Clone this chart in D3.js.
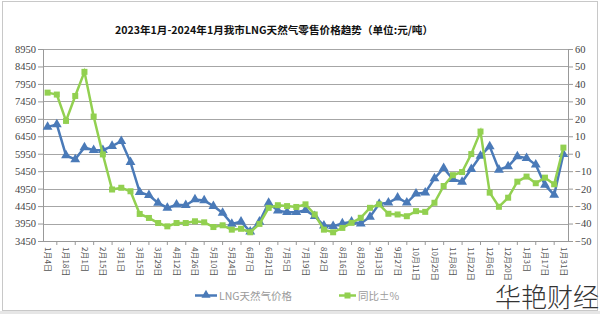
<!DOCTYPE html>
<html><head><meta charset="utf-8">
<script src="https://cdn.jsdelivr.net/npm/d3@7"></script>
<style>
html,body{margin:0;padding:0;background:#fff;}
svg{display:block;}
</style></head>
<body>
<script>
const dates = ["1月4日","1月11日","1月18日","1月25日","2月1日","2月8日","2月15日","2月22日","3月1日","3月8日","3月15日","3月22日","3月29日","4月5日","4月12日","4月19日","4月26日","5月3日","5月10日","5月17日","5月24日","5月31日","6月7日","6月14日","6月21日","6月28日","7月5日","7月12日","7月19日","7月26日","8月2日","8月9日","8月16日","8月23日","8月30日","9月6日","9月13日","9月20日","9月27日","10月4日","10月11日","10月18日","10月25日","11月1日","11月8日","11月15日","11月22日","11月29日","12月6日","12月13日","12月20日","12月27日","1月3日","1月10日","1月17日","1月24日","1月31日"];
const priceLNG = [6720,6790,5900,5790,6130,6050,6050,6170,6310,5710,4850,4760,4540,4400,4490,4475,4640,4610,4450,4255,3940,4005,3720,4000,4540,4320,4275,4275,4330,4160,3890,3875,3950,4000,3950,4140,4515,4545,4690,4545,4805,4835,5240,5535,5220,5140,5510,5890,6160,5490,5585,5875,5825,5635,5055,4770,5940];
const yoyPct = [35,33.9,18.8,33.1,46.9,21.3,-0.4,-20.5,-19.5,-21.5,-34.5,-36.8,-39.7,-41.6,-39.7,-39.7,-38.7,-39.3,-42,-41,-43.5,-43,-45,-40.2,-31,-29.5,-30,-30.5,-29,-34.8,-43.5,-45,-42.5,-39.6,-36.7,-31,-29,-34.4,-34.8,-35.8,-32.9,-33.3,-28.1,-18.5,-12.3,-10.5,-0.2,12.7,-22.3,-30.4,-25.2,-16,-13.1,-16.9,-13.7,-17.5,3.5];
const leftTicks = d3.range(3450, 8951, 500);
const rightTicks = d3.range(-50, 61, 10);
const seriesNames = ["LNG天然气价格","同比±%"];
const title = "2023年1月-2024年1月我市LNG天然气零售价格趋势（单位:元/吨）";

const W = 600, H = 314;
const svg = d3.select("body").append("svg").attr("width", W).attr("height", H);
svg.append("rect").attr("x",0).attr("y",0).attr("width",W).attr("height",H).attr("fill","#fff");
svg.append("rect").attr("x",0).attr("y",311).attr("width",W).attr("height",3).attr("fill","#e6e6e6");
svg.append("rect").attr("x",2.5).attr("y",1.5).attr("width",595).attr("height",309).attr("fill","none").attr("stroke","#c8c8c8");

const L = 43, R = 568, T = 49, B = 241;
const x = d3.scaleBand().domain(dates).range([L, R]);
const cx = d => x(d) + x.bandwidth()/2;
const yL = d3.scaleLinear().domain([3450, 8950]).range([B, T]);
const yR = d3.scaleLinear().domain([-50, 60]).range([B, T]);

svg.append("text").attr("x", 274).attr("y", 34).attr("text-anchor","middle")
  .attr("font-family","'Noto Sans CJK SC', sans-serif").attr("font-weight","bold")
  .attr("font-size", 10.6).attr("fill","#111").text(title);

// grid
svg.append("g").selectAll("line").data(leftTicks).join("line")
  .attr("x1", L).attr("x2", R).attr("y1", d=>Math.round(yL(d))+0.5).attr("y2", d=>Math.round(yL(d))+0.5)
  .attr("stroke","#a6a6a6").attr("stroke-width",1);

const axisFont = "'Liberation Serif', serif";
const gl = svg.append("g").attr("transform",`translate(${L},0)`)
  .call(d3.axisLeft(yL).tickValues(leftTicks).tickSize(5).tickPadding(2).tickFormat(d3.format("d")));
const gr = svg.append("g").attr("transform",`translate(${R},0)`)
  .call(d3.axisRight(yR).tickValues(rightTicks).tickSize(5).tickPadding(2));
[gl, gr].forEach(g => {
  g.select(".domain").attr("stroke","#999");
  g.selectAll(".tick line").attr("stroke","#999");
  g.selectAll("text").attr("font-family", axisFont).attr("font-size", 10.5).attr("fill","#444");
});

const gx = svg.append("g").attr("transform",`translate(0,${B})`)
  .call(d3.axisBottom(x).tickValues(dates.filter((d,i)=>i%2===0)).tickSize(0).tickPadding(6));
gx.select(".domain").attr("stroke","#999");
gx.selectAll("text").attr("font-family","'Noto Sans CJK SC', sans-serif").attr("font-size", 8)
  .attr("fill","#555").attr("text-anchor","start").attr("dy","0.35em")
  .attr("transform","translate(0,6) rotate(90)").attr("x",0).attr("y",0);
// boundary ticks every 2 categories
svg.append("g").selectAll("line").data(dates.filter((d,i)=>i%2===1)).join("line")
  .attr("x1", d=>cx(d)).attr("x2", d=>cx(d)).attr("y1", B).attr("y2", B+4).attr("stroke","#999");

const blue = "#4a7ab8", green = "#92d050";
const lineL = d3.line().x((d,i)=>cx(dates[i])).y(d=>yL(d));
const lineR = d3.line().x((d,i)=>cx(dates[i])).y(d=>yR(d));
svg.append("path").datum(priceLNG).attr("d", lineL).attr("fill","none").attr("stroke",blue).attr("stroke-width",2.5);
svg.append("g").selectAll("path").data(priceLNG).join("path")
  .attr("d", d3.symbol(d3.symbolTriangle, 42)).attr("transform",(d,i)=>`translate(${cx(dates[i])},${yL(d)})`).attr("fill",blue);
svg.append("path").datum(yoyPct).attr("d", lineR).attr("fill","none").attr("stroke",green).attr("stroke-width",2.5);
svg.append("g").selectAll("rect").data(yoyPct).join("rect")
  .attr("x",(d,i)=>cx(dates[i])-3).attr("y",d=>yR(d)-3).attr("width",6).attr("height",6).attr("fill",green);

// legend
const lg = svg.append("g");
lg.append("line").attr("x1",195).attr("x2",217).attr("y1",295.5).attr("y2",295.5).attr("stroke",blue).attr("stroke-width",2.5);
lg.append("path").attr("d", d3.symbol(d3.symbolTriangle, 36)).attr("transform","translate(206,295)").attr("fill",blue);
lg.append("text").attr("x",219).attr("y",299.5).attr("font-family","'Noto Sans CJK SC', serif").attr("font-size",10.5).attr("fill","#9a9a9a").text(seriesNames[0]);
lg.append("line").attr("x1",339).attr("x2",356).attr("y1",295.5).attr("y2",295.5).attr("stroke",green).attr("stroke-width",2.5);
lg.append("rect").attr("x",344.5).attr("y",292.5).attr("width",6).attr("height",6).attr("fill",green);
lg.append("text").attr("x",358).attr("y",299.5).attr("font-family","'Noto Sans CJK SC', serif").attr("font-size",10.5).attr("fill","#9a9a9a").text(seriesNames[1]);

// watermark
svg.append("text").attr("x",599).attr("y",307).attr("text-anchor","end")
  .attr("font-family","'Noto Sans CJK SC', sans-serif").attr("font-weight",300).attr("font-size",26)
  .attr("fill","#333").text("华艳财经");
</script>
</body></html>
